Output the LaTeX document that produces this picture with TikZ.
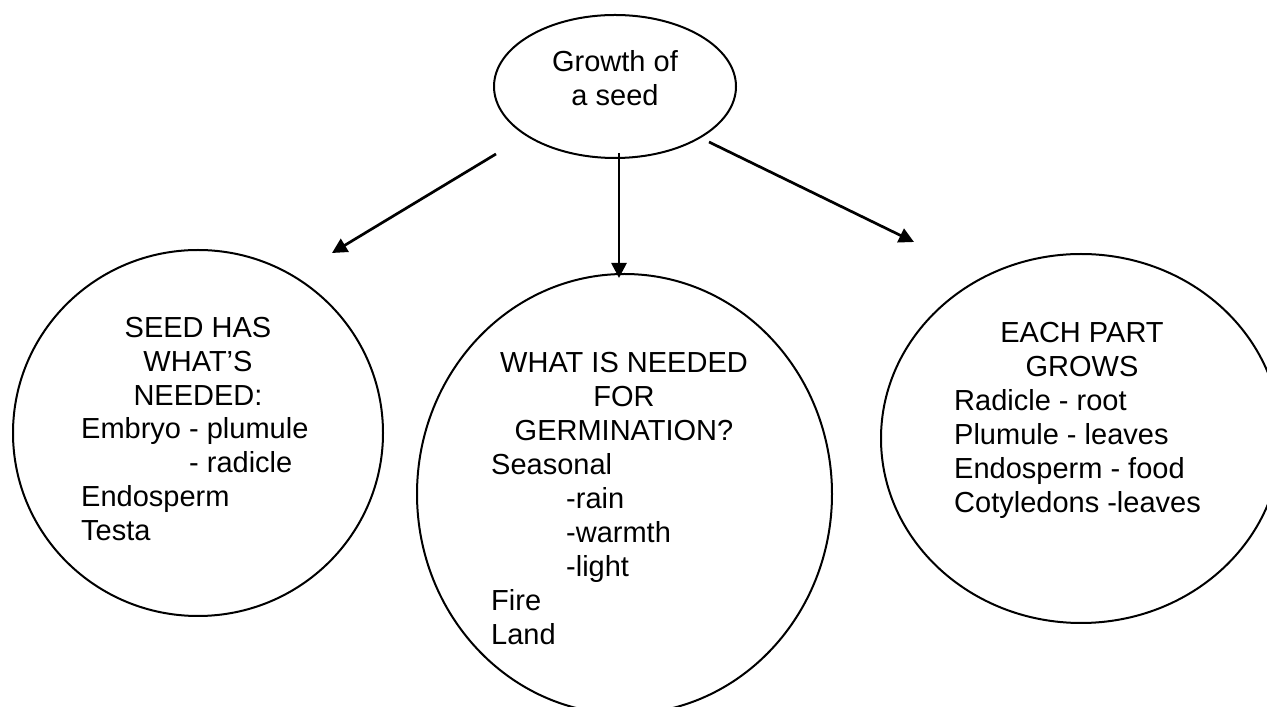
\documentclass[tikz,border=0pt]{standalone}
\usepackage{fontspec}
\setmainfont{Liberation Sans}
\usetikzlibrary{shapes.geometric,arrows.meta}
\tikzset{
  bubble/.style={draw=black, line width=2pt, shape=ellipse, inner sep=0pt},
  txt/.style={inner sep=0pt, font=\fontsize{29}{33.85}\selectfont},
  arr/.style={line width=2.7pt, -{Triangle[length=15pt,width=15pt]}}
}
\begin{document}
\begin{tikzpicture}[x=1pt,y=1pt]
\useasboundingbox (0,0) rectangle (1267,707);
\fill[white] (0,0) rectangle (1267,707);
\clip (0,0) rectangle (1267,707);
% shapes
\node[bubble, minimum width=242pt, minimum height=143pt] (top) at (615,620.5) {};
\node[bubble, minimum width=370pt, minimum height=366pt] (left) at (198,274) {};
\node[bubble, minimum width=415pt, minimum height=440pt] (mid) at (624.5,213) {};
\node[bubble, minimum width=400pt, minimum height=369pt] (right) at (1081,268.5) {};
% texts
\node[txt, anchor=base] (toptxt) at (615,635) {\begin{tabular}[t]{@{}c@{}}Growth of\\a seed\end{tabular}};
\node[txt, anchor=base] (lefthead) at (198,369) {\begin{tabular}[t]{@{}c@{}}SEED HAS\\WHAT’S\\NEEDED:\end{tabular}};
\node[txt, anchor=base west] (leftbody) at (81,268) {\begin{tabular}[t]{@{}l@{}}Embryo - plumule\\\phantom{Embryo }- radicle\\Endosperm\\Testa\end{tabular}};
\node[txt, anchor=base] (midhead) at (624,334) {\begin{tabular}[t]{@{}c@{}}WHAT IS NEEDED\\FOR\\GERMINATION?\end{tabular}};
\node[txt, anchor=base west] (midbody) at (491,232) {\begin{tabular}[t]{@{}l@{}}Seasonal\\\hspace*{75pt}-rain\\\hspace*{75pt}-warmth\\\hspace*{75pt}-light\\Fire\\Land\end{tabular}};
\node[txt, anchor=base] (righthead) at (1082,364) {\begin{tabular}[t]{@{}c@{}}EACH PART\\GROWS\end{tabular}};
\node[txt, anchor=base west] (rightbody) at (954,296) {\begin{tabular}[t]{@{}l@{}}Radicle - root\\Plumule - leaves\\Endosperm - food\\Cotyledons -leaves\end{tabular}};
% arrow ends
\coordinate (s1) at (496,553);
\coordinate (t1) at (332,454);
\coordinate (s2) at (619,554);
\coordinate (t2) at (619,429);
\coordinate (s3) at (709,565);
\coordinate (t3) at (914,465);
\draw[arr] (s1) -- (t1);
\draw[arr] (s2) -- (t2);
\draw[arr] (s3) -- (t3);
\end{tikzpicture}
\end{document}
